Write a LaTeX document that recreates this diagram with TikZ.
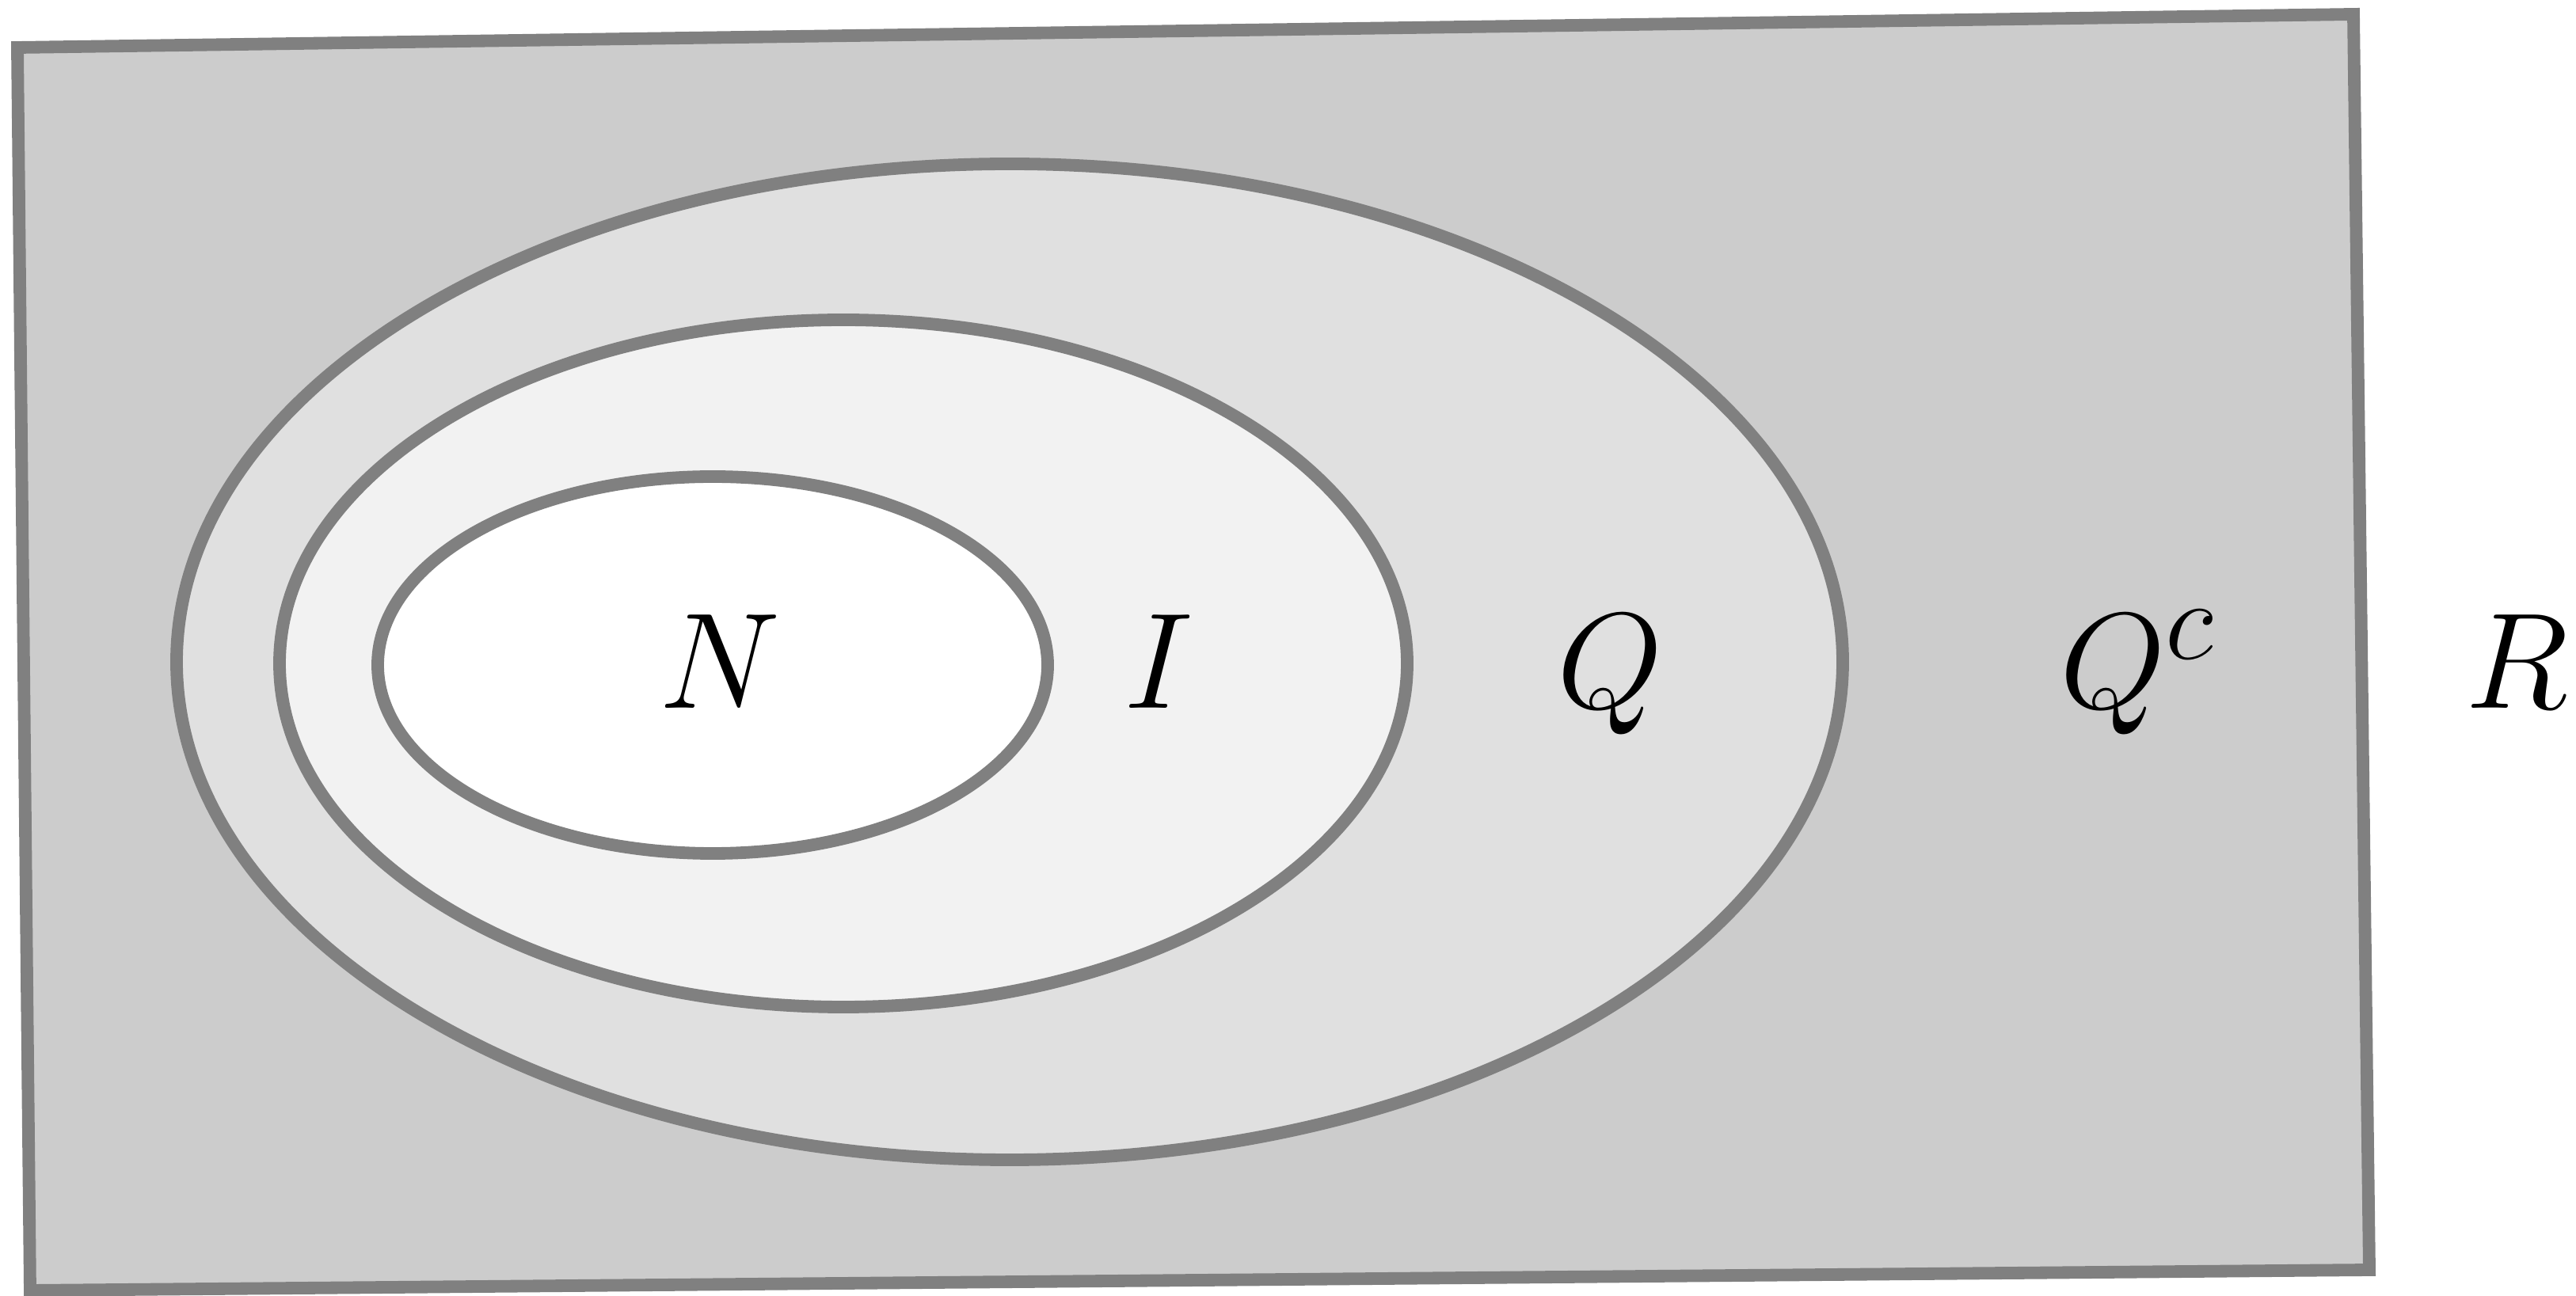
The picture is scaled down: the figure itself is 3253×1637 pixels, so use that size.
\documentclass[tikz,border=0pt]{standalone}
\begin{document}
\begin{tikzpicture}[x=0.01cm,y=-0.01cm,
  setline/.style={draw=black!50,line width=4.5pt},
  setname/.style={font=\Huge,scale=1.97,anchor=base}]
\useasboundingbox (0,0) rectangle (3253,1637);

% the frame (slightly tilted, as scanned)
\coordinate (tl) at (22,60);
\coordinate (tr) at (2972,18);
\coordinate (br) at (2992,1604);
\coordinate (bl) at (38,1630);
\fill[black!20] (tl) -- (tr) -- (br) -- (bl) -- cycle;

% nested sets
\fill[black!12] (1275,836) ellipse [x radius=1052,y radius=629];
\fill[black!5] (1065,838) ellipse [x radius=712,y radius=434];
\fill[white] (900,840) ellipse [x radius=423,y radius=238];

\draw[setline] (tl) -- (tr) -- (br) -- (bl) -- cycle;
\draw[setline] (1275,836) ellipse [x radius=1052,y radius=629];
\draw[setline] (1065,838) ellipse [x radius=712,y radius=434];
\draw[setline] (900,840) ellipse [x radius=423,y radius=238];

\node[setname] (natural) at (909,895) {$N$};
\node[setname] (integer) at (1463,895) {$I$};
\node[setname] (rational) at (2033,895) {$Q$};
\node[setname] (irrational) at (2700,895) {$Q^c$};
\node[setname] (real) at (3178,895) {$R$};
\end{tikzpicture}
\end{document}
